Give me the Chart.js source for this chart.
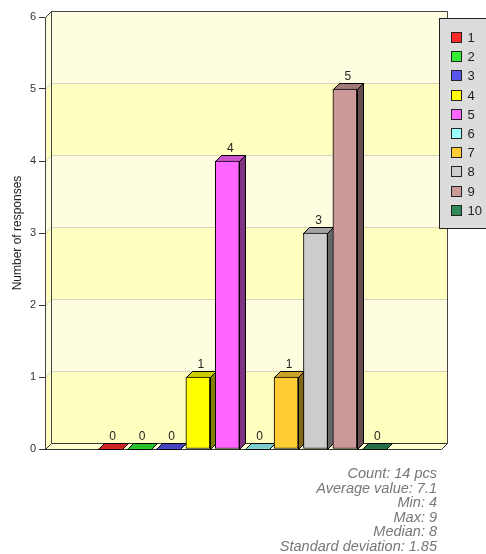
<!DOCTYPE html>
<html>
<head>
<meta charset="utf-8">
<script src="https://cdn.jsdelivr.net/npm/chart.js@4"></script>
<style>
  html, body { margin: 0; padding: 0; background: #fff; }
  canvas { display: block; }
</style>
</head>
<body>
<canvas id="Chart" width="486" height="554"></canvas>
<script>
let categories = ['1', '2', '3', '4', '5', '6', '7', '8', '9', '10'];
let responses = [0, 0, 0, 1, 4, 0, 1, 3, 5, 0];
let barColors = ['#ff2a2a', '#33ee33', '#5555ee', '#ffff00', '#ff66ff',
                 '#99ffff', '#ffcc33', '#cccccc', '#cc9999', '#2e8b57'];
let yTicks = [0, 1, 2, 3, 4, 5, 6];
let statLines = ['Count: 14 pcs', 'Average value: 7.1', 'Min: 4', 'Max: 9',
                 'Median: 8', 'Standard deviation: 1.85'];

const DEPTH = 6;

function shade(hex, f) {
    let n = parseInt(hex.slice(1), 16);
    let r = Math.round(((n >> 16) & 255) * f);
    let g = Math.round(((n >> 8) & 255) * f);
    let b = Math.round((n & 255) * f);
    return 'rgb(' + r + ',' + g + ',' + b + ')';
}

function poly(ctx, pts, fill, stroke) {
    ctx.beginPath();
    ctx.moveTo(pts[0][0], pts[0][1]);
    for (let i = 1; i < pts.length; i++) ctx.lineTo(pts[i][0], pts[i][1]);
    ctx.closePath();
    if (fill) { ctx.fillStyle = fill; ctx.fill(); }
    if (stroke) { ctx.strokeStyle = stroke; ctx.lineWidth = 1; ctx.stroke(); }
}

// walls, floor and the 3d sides of bars (fronts are drawn by chart.js after this)
let boxPlugin = {
    id: 'box3d',
    beforeDatasetsDraw(chart) {
        let ctx = chart.ctx;
        let a = chart.chartArea;
        let y = chart.scales.y;
        let d = DEPTH;
        ctx.save();
        ctx.translate(0.5, 0.5);
        let L = Math.round(a.left), R = Math.round(a.right);
        for (let i = 0; i < yTicks.length - 1; i++) {
            let yb = Math.round(y.getPixelForValue(yTicks[i]));
            let yt = Math.round(y.getPixelForValue(yTicks[i + 1]));
            let col = i % 2 === 0 ? '#ffffc0' : '#fffde0';
            // back wall band
            ctx.fillStyle = col;
            ctx.fillRect(L + d, yt - d, R - L, yb - yt);
            // left wall band
            poly(ctx, [[L, yb], [L + d, yb - d], [L + d, yt - d], [L, yt]], col, null);
        }
        // grid lines
        ctx.strokeStyle = '#d4d4c0';
        ctx.lineWidth = 1;
        yTicks.forEach(function (t) {
            if (t === 0) return;
            let py = Math.round(y.getPixelForValue(t));
            ctx.beginPath();
            ctx.moveTo(L, py);
            ctx.lineTo(L + d, py - d);
            ctx.lineTo(R + d, py - d);
            ctx.stroke();
        });
        let top = Math.round(a.top), bot = Math.round(a.bottom);
        // floor
        poly(ctx, [[L, bot], [R, bot], [R + d, bot - d], [L + d, bot - d]], '#ffffd0', '#333');
        // wall outlines
        ctx.strokeStyle = '#444';
        ctx.beginPath();
        ctx.moveTo(L, bot); ctx.lineTo(L, top); ctx.lineTo(L + d, top - d);
        ctx.lineTo(R + d, top - d); ctx.lineTo(R + d, bot - d);
        ctx.moveTo(L + d, top - d); ctx.lineTo(L + d, bot - d);
        ctx.stroke();

        let meta = chart.getDatasetMeta(0);
        meta.data.forEach(function (bar, i) {
            let p = bar.getProps(['x', 'y', 'base', 'width'], true);
            let l = Math.round(p.x - p.width / 2), r = Math.round(p.x + p.width / 2);
            let t = Math.round(p.y), b = Math.round(p.base);
            let c = barColors[i];
            if (responses[i] > 0) {
                poly(ctx, [[r, t], [r + d, t - d], [r + d, b - d], [r, b]], shade(c, 0.5), '#000');
            }
            poly(ctx, [[l, t], [l + d, t - d], [r + d, t - d], [r, t]], shade(c, 0.8), '#000');
        });
        ctx.restore();
    },
    afterDatasetsDraw(chart) {
        let ctx = chart.ctx;
        let meta = chart.getDatasetMeta(0);
        ctx.save();
        ctx.font = '12px "Liberation Sans", Arial, sans-serif';
        ctx.fillStyle = '#222';
        ctx.textAlign = 'center';
        ctx.textBaseline = 'alphabetic';
        meta.data.forEach(function (bar, i) {
            ctx.fillText(String(responses[i]), bar.x + DEPTH / 2, bar.y - DEPTH - 3);
        });
        ctx.restore();
    },
    afterDraw(chart) {
        let ctx = chart.ctx;
        ctx.save();
        // legend
        ctx.translate(0.5, 0.5);
        ctx.fillStyle = '#dcdcdc';
        ctx.strokeStyle = '#222';
        ctx.lineWidth = 1;
        ctx.fillRect(439, 18, 60, 210);
        ctx.strokeRect(439, 18, 60, 210);
        ctx.font = '13px "Liberation Sans", Arial, sans-serif';
        ctx.textAlign = 'left';
        ctx.textBaseline = 'middle';
        categories.forEach(function (c, i) {
            let yy = 32 + i * 19.2;
            ctx.fillStyle = barColors[i];
            ctx.fillRect(451, Math.round(yy), 10, 10);
            ctx.strokeStyle = '#222';
            ctx.strokeRect(451, Math.round(yy), 10, 10);
            ctx.fillStyle = '#222';
            ctx.fillText(c, 467, Math.round(yy) + 6);
        });
        ctx.restore();
        // statistics
        ctx.save();
        ctx.font = 'italic 14.5px "Liberation Sans", Arial, sans-serif';
        ctx.fillStyle = '#777';
        ctx.textAlign = 'right';
        ctx.textBaseline = 'alphabetic';
        statLines.forEach(function (s, i) {
            ctx.fillText(s, 437, 478 + i * 14.5);
        });
        ctx.restore();
    }
};

let graph = document.getElementById('Chart');

let chartdtl = {
    type: 'bar',
    data: {
        datasets: [{
            data: responses.map((v, i) => ({ x: i + 1, y: v })),
            backgroundColor: barColors,
            borderColor: '#000',
            borderWidth: (c) => responses[c.dataIndex] > 0 ? 1 : 0,
            borderSkipped: false,
            barThickness: 24,
        }],
    },
    options: {
        responsive: false,
        animation: false,
        layout: { padding: { left: 0, top: 17, right: 45, bottom: 105 } },
        plugins: { legend: { display: false }, tooltip: { enabled: false } },
        scales: {
            x: {
                type: 'linear',
                display: false,
                min: -1.2,
                max: 12.27,
                offset: false,
            },
            y: {
                min: 0,
                max: 6,
                afterFit(scale) { scale.width = 45; },
                ticks: {
                    stepSize: 1,
                    padding: 3,
                    color: '#333',
                    font: { size: 11, family: '"Liberation Sans", Arial, sans-serif' },
                },
                grid: { drawOnChartArea: false, drawTicks: true, tickLength: 6, color: '#333' },
                border: { color: '#333' },
                title: {
                    display: true,
                    text: 'Number of responses',
                    color: '#222',
                    padding: { top: 10, bottom: 0 },
                    font: { size: 12, family: '"Liberation Sans", Arial, sans-serif' },
                },
            },
        },
    },
    plugins: [boxPlugin],
};

let presentdata = new Chart(graph, chartdtl);
</script>
</body>
</html>
